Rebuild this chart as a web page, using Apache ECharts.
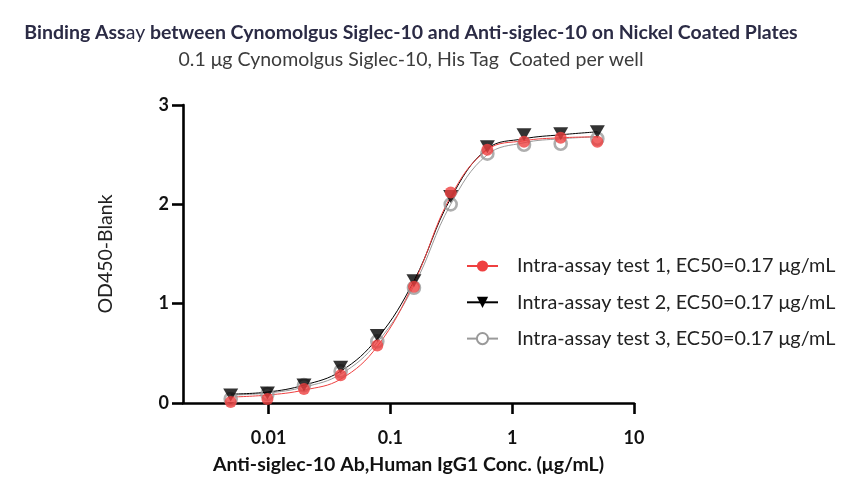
<!DOCTYPE html>
<html><head><meta charset="utf-8">
<script src="https://cdn.jsdelivr.net/npm/echarts@6/dist/echarts.min.js"></script>
<style>html,body{margin:0;padding:0;background:#fff}#c{width:861px;height:501px}</style>
</head><body><div id="c"></div>
<script>
// concentrations (µg/mL)
const concentrations = [0.00488, 0.00977, 0.0195, 0.039, 0.078, 0.156, 0.3125, 0.625, 1.25, 2.5, 5];
// measured points
const test1Values = [0.01, 0.04, 0.14, 0.28, 0.58, 1.17, 2.12, 2.55, 2.63, 2.67, 2.63];
const test2Values = [0.08, 0.10, 0.18, 0.36, 0.68, 1.23, 2.08, 2.58, 2.70, 2.71, 2.73];
const test3Values = [0.04, 0.09, 0.18, 0.32, 0.62, 1.16, 2.00, 2.51, 2.60, 2.61, 2.66];
// fitted curve values at each concentration
const fit1Values = [0.06, 0.08, 0.13, 0.24, 0.57, 1.21, 2.08, 2.55, 2.64, 2.67, 2.68];
const fit2Values = [0.09, 0.11, 0.18, 0.32, 0.65, 1.23, 2.06, 2.56, 2.66, 2.70, 2.73];
const fit3Values = [0.08, 0.10, 0.16, 0.29, 0.61, 1.18, 2.00, 2.50, 2.62, 2.66, 2.68];
const seriesNames = [
  'Intra-assay test 1, EC50=0.17 μg/mL',
  'Intra-assay test 2, EC50=0.17 μg/mL',
  'Intra-assay test 3, EC50=0.17 μg/mL'
];
const xTickValues = [0.01, 0.1, 1, 10];
const xTickLabels = ['0.01', '0.1', '1', '10'];

const FONT = 'Lato';
const pairs = (xs, ys) => xs.map((x, i) => [x, ys[i]]);

const chart = echarts.init(document.getElementById('c'));
chart.setOption({
  backgroundColor: '#fff',
  animation: false,
  title: {
    left: 411,
    textAlign: 'center',
    top: 22,
    padding: 0,
    itemGap: 5,
    text: 'Binding Ass{a|ay} between Cynomolgus Siglec-10 and Anti-siglec-10 on Nickel Coated Plates',
    textStyle: {
      fontFamily: FONT, fontSize: 19.5, fontWeight: 'bold', color: '#2b2b45', lineHeight: 22,
      rich: { a: { fontFamily: FONT, fontSize: 19.5, fontWeight: 'normal', color: '#2b2b45', lineHeight: 22 } }
    },
    subtext: '0.1 μg Cynomolgus Siglec-10, His Tag  Coated per well',
    subtextStyle: { fontFamily: FONT, fontSize: 19.5, color: '#3c3c3c', lineHeight: 22 }
  },
  grid: { left: 183, right: 227, top: 105, bottom: 98, containLabel: false },
  legend: {
    orient: 'vertical',
    left: 461,
    top: 250,
    itemWidth: 31,
    itemHeight: 14,
    itemGap: 14.3,
    data: seriesNames,
    textStyle: { fontFamily: FONT, fontSize: 19.8, color: '#222', lineHeight: 22, padding: [0, 0, 0, 14] }
  },
  xAxis: {
    type: 'log',
    logBase: 10,
    min: 0.00198,
    max: 10,
    axisLine: { show: true, lineStyle: { color: '#000', width: 2.6 } },
    axisTick: { show: true, length: 11, lineStyle: { color: '#000', width: 2.6 }, customValues: xTickValues },
    axisLabel: {
      customValues: xTickValues,
      margin: 26,
      fontFamily: FONT, fontSize: 18, fontWeight: 'bold', color: '#111',
      formatter: v => { const i = xTickValues.findIndex(t => Math.abs(Math.log10(t) - Math.log10(v)) < 1e-6); return i >= 0 ? xTickLabels[i] : ''; }
    },
    splitLine: { show: false },
    name: 'Anti-siglec-10 Ab,Human IgG1 Conc. (μg/mL)',
    nameLocation: 'middle',
    nameGap: 52,
    nameTextStyle: { fontFamily: FONT, fontSize: 19.5, fontWeight: 'bold', color: '#111' }
  },
  yAxis: {
    type: 'value',
    min: 0, max: 3, interval: 1,
    axisLine: { show: true, lineStyle: { color: '#000', width: 2.6 } },
    axisTick: { show: true, length: 11, lineStyle: { color: '#000', width: 2.6 } },
    axisLabel: { margin: 14, fontFamily: FONT, fontSize: 18, fontWeight: 'bold', color: '#111' },
    splitLine: { show: false },
    name: 'OD450-Blank',
    nameLocation: 'middle',
    nameGap: 67,
    nameTextStyle: { fontFamily: FONT, fontSize: 19.5, color: '#222' }
  },
  series: [
    { name: seriesNames[0], type: 'line', data: pairs(concentrations, fit1Values), smooth: 0.4,
      symbol: 'circle', showSymbol: false, z: 3, color: '#ef4040',
      lineStyle: { width: 1, color: '#ef4040' }, itemStyle: { color: '#ef4040' } },
    { name: seriesNames[1], type: 'line', data: pairs(concentrations, fit2Values), smooth: 0.4,
      symbol: 'triangle', symbolRotate: 180, showSymbol: false, z: 2, color: '#000',
      lineStyle: { width: 1, color: '#000' }, itemStyle: { color: '#000' } },
    { name: seriesNames[2], type: 'line', data: pairs(concentrations, fit3Values), smooth: 0.4,
      symbol: 'emptyCircle', showSymbol: false, z: 1, color: '#9a9a9a',
      lineStyle: { width: 1, color: '#9a9a9a' }, itemStyle: { color: '#9a9a9a' } },
    { name: seriesNames[2], type: 'scatter', data: pairs(concentrations, test3Values), z: 4,
      symbol: 'circle', symbolSize: 12,
      itemStyle: { color: 'rgba(255,255,255,0)', borderColor: '#9a9a9a', borderWidth: 2.6 } },
    { name: seriesNames[1], type: 'scatter', data: pairs(concentrations, test2Values), z: 5,
      symbol: 'triangle', symbolRotate: 180, symbolSize: [15, 13],
      itemStyle: { color: '#000' } },
    { name: seriesNames[0], type: 'scatter', data: pairs(concentrations, test1Values), z: 6,
      symbol: 'circle', symbolSize: 12,
      itemStyle: { color: '#ef4040' } }
  ]
});
</script>
</body></html>
